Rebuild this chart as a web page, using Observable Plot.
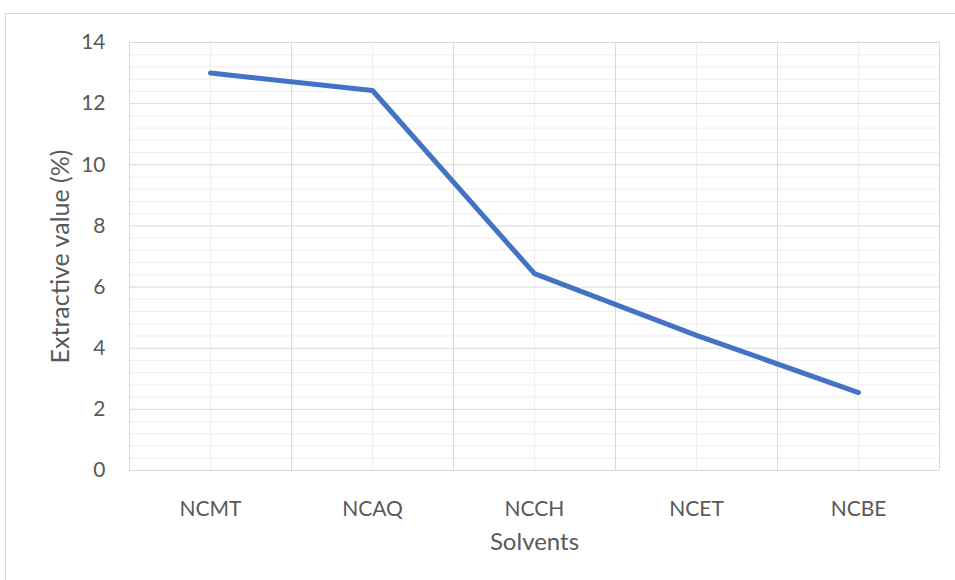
<!DOCTYPE html>
<html>
<head>
<meta charset="utf-8">
<script src="https://cdn.jsdelivr.net/npm/d3@7"></script>
<script src="https://cdn.jsdelivr.net/npm/@observablehq/plot@0.6"></script>
<style>
  html, body { margin: 0; padding: 0; background: #fff; overflow: hidden; }
  #wrap { position: relative; width: 955px; height: 580px; }
  #frame { position: absolute; left: 5px; top: 13px; width: 1000px; height: 700px; border: 1px solid #d9d9d9; box-sizing: border-box; }
  #chart { position: absolute; left: 0; top: 0; }
</style>
</head>
<body>
<div id="wrap"><div id="frame"></div><div id="chart"></div></div>
<script>
const categories = ["NCMT", "NCAQ", "NCCH", "NCET", "NCBE"];
const values = [13.0, 12.43, 6.44, 4.42, 2.55];
const yTicks = [0, 2, 4, 6, 8, 10, 12, 14];
const yMinorTicks = [0.4, 0.8, 1.2, 1.6, 2.4, 2.8, 3.2, 3.6, 4.4, 4.8, 5.2, 5.6, 6.4, 6.8, 7.2, 7.6,
  8.4, 8.8, 9.2, 9.6, 10.4, 10.8, 11.2, 11.6, 12.4, 12.8, 13.2, 13.6];
const xTitle = "Solvents";
const yTitle = "Extractive value (%)";

const data = categories.map((c, i) => ({i, c, v: values[i]}));
const centers = categories.map((_, i) => i);
const edges = [...categories.map((_, i) => i - 0.5), categories.length - 0.5];

const font = "Lato, 'Open Sans', sans-serif";
const txt = "#595959";

const chart = Plot.plot({
  width: 955,
  height: 580,
  marginLeft: 129,
  marginRight: 16,
  marginTop: 42,
  marginBottom: 110,
  style: {fontFamily: font, color: txt, background: "transparent"},
  x: {type: "linear", domain: [-0.5, categories.length - 0.5]},
  y: {domain: [0, 14]},
  marks: [
    Plot.gridY(yMinorTicks, {stroke: "#eeeeee", strokeOpacity: 1, strokeWidth: 1}),
    Plot.gridX(centers, {stroke: "#eeeeee", strokeOpacity: 1, strokeWidth: 1}),
    Plot.gridX(edges, {stroke: "#d9d9d9", strokeOpacity: 1, strokeWidth: 1}),
    Plot.gridY(yTicks, {stroke: "#d9d9d9", strokeOpacity: 1, strokeWidth: 1}),
    Plot.axisY(yTicks, {tickSize: 0, tickPadding: 24, label: null, fontSize: 21, fill: txt}),
    Plot.axisX(centers, {tickSize: 0, tickPadding: 31, label: null, fontSize: 21, fill: txt,
      tickFormat: i => categories[i]}),
    Plot.line(data, {x: "i", y: "v", stroke: "#4472C4", strokeWidth: 5,
      strokeLinecap: "round", strokeLinejoin: "round"}),
    Plot.text([yTitle], {frameAnchor: "left", dx: -69, rotate: -90, text: d => d,
      textAnchor: "middle", lineAnchor: "middle", fontSize: 25, fill: txt}),
    Plot.text([xTitle], {frameAnchor: "bottom", dy: 72, text: d => d,
      textAnchor: "middle", lineAnchor: "middle", fontSize: 24, fill: txt})
  ]
});
document.getElementById("chart").appendChild(chart);
</script>
</body>
</html>
